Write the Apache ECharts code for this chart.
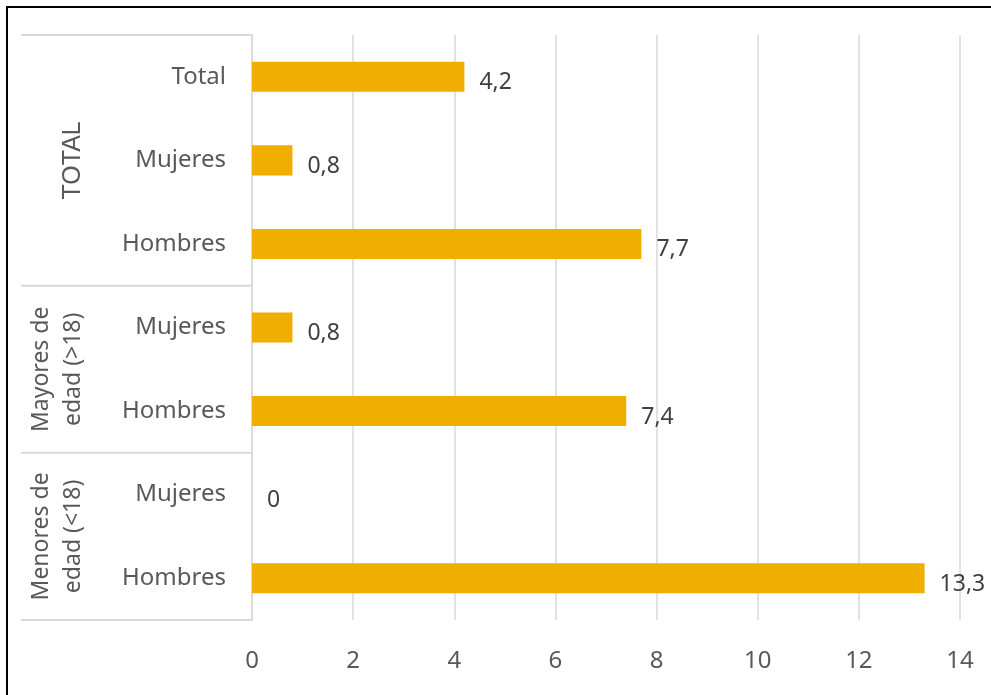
<!DOCTYPE html>
<html><head><meta charset="utf-8">
<script src="https://cdn.jsdelivr.net/npm/echarts@6/dist/echarts.min.js"></script>
<style>html,body{margin:0;padding:0;background:#fff}#c{width:991px;height:695px}</style>
</head><body><div id="c"></div>
<script>
// Categories listed bottom-to-top
const categories = ['Hombres', 'Mujeres', 'Hombres', 'Mujeres', 'Hombres', 'Mujeres', 'Total'];
const values = [13.3, 0, 7.4, 0.8, 7.7, 0.8, 4.2];
// Groups: label, first category index, last category index
const groupLabels = ['Menores de\nedad (<18)', 'Mayores de\nedad (>18)', 'TOTAL'];
const groupStart = [0, 2, 4];
const groupEnd = [1, 3, 6];
const xTicks = [0, 2, 4, 6, 8, 10, 12, 14];

const chart = echarts.init(document.getElementById('c'));
const txt = '#595959';
const grid = '#d9d9d9';
chart.setOption({
  animation: false,
  grid: { left: 252, right: 31, top: 35, bottom: 75, containLabel: false },
  xAxis: {
    type: 'value', min: xTicks[0], max: xTicks[xTicks.length - 1], interval: 2,
    axisLine: { show: false }, axisTick: { show: false },
    splitLine: { lineStyle: { color: grid, width: 1.5 } },
    axisLabel: { color: txt, fontSize: 24, fontFamily: 'Noto Sans', margin: 29 }
  },
  yAxis: {
    type: 'category', data: categories,
    axisLine: { lineStyle: { color: grid, width: 1.5 } },
    axisTick: { show: false },
    axisLabel: { color: txt, fontSize: 24, fontFamily: 'Noto Sans', margin: 26,
      padding: [5, 0, 0, 0] }
  },
  series: [{
    type: 'bar', data: values, barCategoryGap: '64%',
    itemStyle: { color: '#F0AE00' },
    label: {
      show: true, position: 'right', distance: 15, color: '#404040',
      fontSize: 23, fontFamily: 'Noto Sans', offset: [0, 6],
      formatter: p => String(p.value).replace('.', ',')
    }
  }]
});

function drawGroups() {
  const yc = i => chart.convertToPixel({ yAxisIndex: 0 }, i);
  const half = (yc(0) - yc(1)) / 2;
  const axisX = chart.convertToPixel({ xAxisIndex: 0 }, 0);
  const leftX = 21;
  const els = [];
  const bounds = new Set();
  groupStart.forEach((s, g) => {
    bounds.add(yc(s) + half);
    bounds.add(yc(groupEnd[g]) - half);
    const mid = (yc(s) + yc(groupEnd[g])) / 2;
    const single = groupLabels[g].indexOf('\n') < 0;
    els.push({
      type: 'text', x: 89, y: mid, rotation: Math.PI / 2,
      style: {
        text: groupLabels[g], fill: txt,
        font: single ? '25px "Liberation Sans"' : '23px "Noto Sans"',
        align: 'center', verticalAlign: 'bottom', lineHeight: 32
      }
    });
  });
  bounds.forEach(y => {
    els.push({ type: 'line', shape: { x1: leftX, y1: y, x2: axisX, y2: y },
      style: { stroke: grid, lineWidth: 2 } });
  });
  els.push({ type: 'rect', shape: { x: 7, y: 7, width: 1100, height: 1000 },
    style: { fill: 'none', stroke: '#000', lineWidth: 2 } });
  chart.setOption({ graphic: els });
}
drawGroups();
</script></body></html>
